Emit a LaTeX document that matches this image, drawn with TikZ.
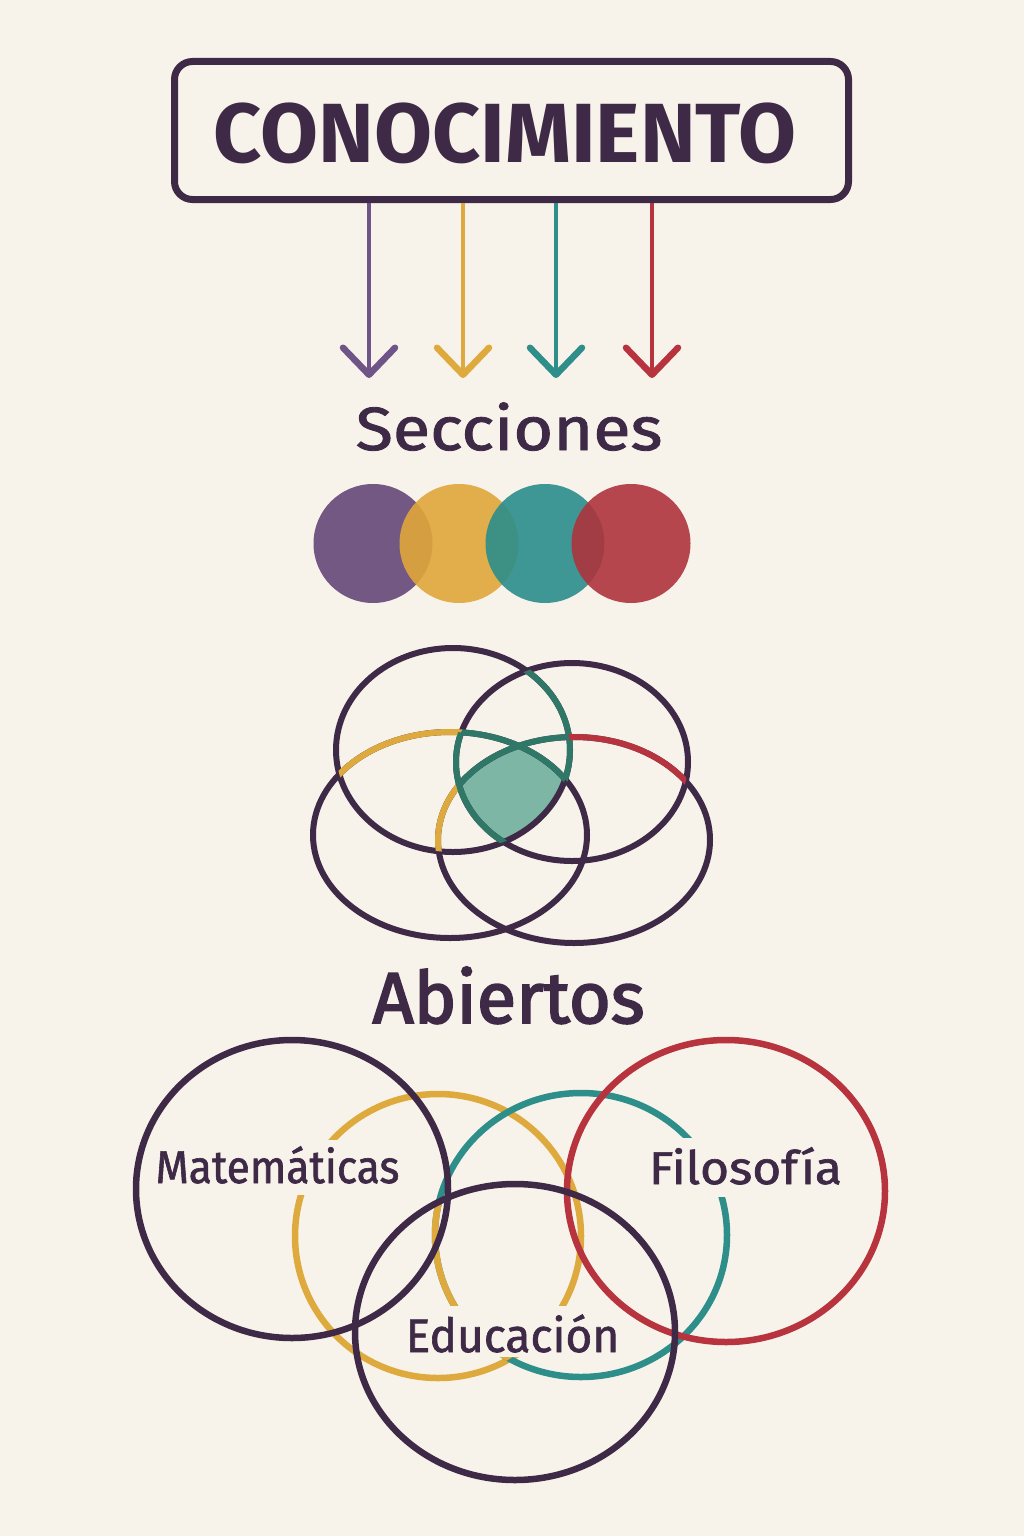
\documentclass[tikz,border=0pt]{standalone}
\usepackage{fontspec}
\setmainfont{Fira Sans}
\newfontfamily\medfont[FakeBold=1.4]{Fira Sans}
\newfontfamily\semifont[FakeBold=2.6]{Fira Sans}
\usetikzlibrary{arrows.meta}
\definecolor{bg}{HTML}{F8F3EA}
\definecolor{ink}{HTML}{3E2A47}
\definecolor{cpurple}{HTML}{6F5487}
\definecolor{cyellow}{HTML}{DEAA3E}
\definecolor{cteal}{HTML}{2E8E89}
\definecolor{cred}{HTML}{B7343E}
\definecolor{fpurple}{HTML}{654878}
\definecolor{fyellow}{HTML}{E0A73A}
\definecolor{fteal}{HTML}{2A8E8B}
\definecolor{fred}{HTML}{AF343D}
\definecolor{vteal}{HTML}{2F7767}
\definecolor{vfill}{HTML}{7DB6A4}
\def\fullrect{(-10,-10) rectangle (1034,1546)}
\def\eTL{(453,750) ellipse [x radius=117, y radius=102]}
\def\eTR{(572,762) ellipse [x radius=116, y radius=99]}
\def\eBL{(450,835) ellipse [x radius=137, y radius=103]}
\def\eBR{(574,840) ellipse [x radius=136, y radius=103]}
\def\bM{(292,1189) ellipse [x radius=156, y radius=149]}
\def\bY{(438,1236) ellipse [x radius=143, y radius=142]}
\def\bT{(581,1235) ellipse [x radius=146, y radius=142]}
\def\bR{(726,1191) ellipse [x radius=159, y radius=151]}
\def\bE{(515,1332) ellipse [x radius=160, y radius=148]}
\begin{document}
\begin{tikzpicture}[x=1pt,y=-1pt,
  titlebox/.style={draw=ink, line width=7pt, rounded corners=18pt, minimum width=674pt, minimum height=138pt, inner sep=0pt},
  conn/.style={line width=4.5pt, -{Straight Barb[length=27pt,width=52pt,line width=6.5pt,round]}},
  heading/.style={text=ink, inner sep=0pt, anchor=base},
  lbl/.style={text=ink, fill=bg, inner xsep=4pt, inner ysep=0pt, anchor=base, font=\fontsize{46}{46}\medfont},
  vline/.style={line width=6pt},
  bline/.style={line width=6.5pt},
  dot/.style={fill opacity=0.9}]
\useasboundingbox (0,0) rectangle (1024,1536);
\fill[bg] (0,0) rectangle (1024,1536);

% title
\node[titlebox] (title) at (511.5,130.5) {};
\node[heading, font=\fontsize{84}{84}\selectfont\bfseries] (titletext) at (505,162) {CONOCIMIENTO};

% arrows
\coordinate (e1) at (369,378);
\coordinate (e2) at (463,378);
\coordinate (e3) at (556,378);
\coordinate (e4) at (652,378);
\draw[conn, cpurple] (title.south -| e1) -- (e1);
\draw[conn, cyellow] (title.south -| e2) -- (e2);
\draw[conn, cteal] (title.south -| e3) -- (e3);
\draw[conn, cred] (title.south -| e4) -- (e4);

\node[heading, font=\fontsize{61}{61}\medfont] (secciones) at (509,450) {\scalebox{1.12}[1]{Secciones}};

% filled circles
\fill[dot, fpurple] (373,543.5) circle [radius=59.5];
\fill[dot, fyellow] (459,543.5) circle [radius=59.5];
\fill[dot, fteal] (545,543.5) circle [radius=59.5];
\fill[dot, fred] (631,543.5) circle [radius=59.5];

% middle venn
\begin{scope}
  \clip \eTL; \clip \eTR; \clip \eBL; \clip \eBR;
  \fill[vfill] \fullrect;
\end{scope}
\draw[vline, ink] \eTL;
\draw[vline, ink] \eTR;
\draw[vline, ink] \eBL;
\draw[vline, ink] \eBR;
\begin{scope}[even odd rule]
  \clip \eTR \fullrect;
  \begin{scope}[nonzero rule]
    \clip \eTL;
    \draw[vline, cyellow] \eBL;
    \draw[vline, cyellow] \eBR;
  \end{scope}
\end{scope}
\begin{scope}
  \clip \eTL; \clip \eTR;
  \draw[vline, vteal] \eBL;
  \draw[vline, vteal] \eBR;
\end{scope}
\begin{scope}[even odd rule]
  \clip \eBL \fullrect;
  \begin{scope}[nonzero rule]
    \clip \eTR;
    \draw[vline, vteal] \eTL;
  \end{scope}
\end{scope}
\begin{scope}
  \clip \eTL; \clip \eBL;
  \draw[vline, vteal] \eTR;
\end{scope}
\begin{scope}[even odd rule]
  \clip \eTL \fullrect;
  \begin{scope}[nonzero rule]
    \clip \eTR;
    \draw[vline, cred] \eBR;
  \end{scope}
\end{scope}

\node[heading, font=\fontsize{72}{72}\semifont] (abiertos) at (508.5,1023) {Abiertos};

% bottom venn
\draw[bline, cyellow] \bY;
\draw[bline, cteal] \bT;
\begin{scope}
  \clip \bY; \clip \bE;
  \draw[bline, cyellow] \bT;
\end{scope}

\node[lbl, text height=43pt, text depth=12pt] (mat) at (277.5,1183) {\scalebox{0.925}[1]{Matemáticas}};
\node[lbl, text height=46pt, text depth=13pt] (filo) at (745.5,1184) {\scalebox{1.08}[1]{Filosofía}};
\node[lbl, text height=46pt, text depth=5pt, font=\fontsize{47}{47}\medfont] (edu) at (512.5,1352) {\scalebox{0.98}[1]{Educación}};

\draw[bline, cred] \bR;
\draw[bline, ink] \bM;
\draw[bline, ink] \bE;
\end{tikzpicture}
\end{document}
